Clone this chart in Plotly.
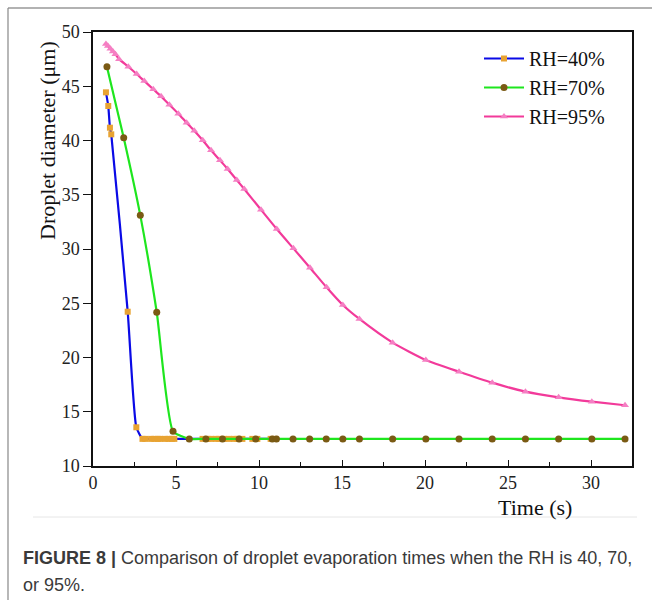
import plotly.graph_objects as go

# ---------------- data ----------------
t_40 = [0.78, 0.92, 1.02, 1.10, 2.09, 2.61, 2.98, 3.15, 3.5, 3.7, 3.9, 4.05,
        4.35, 4.55, 4.75, 4.9, 6.6, 6.9, 7.1, 7.4, 7.6, 7.9, 8.2, 8.5, 8.7, 9.0,
        9.6, 9.9, 10.7, 11.0]
d_40 = [44.44, 43.18, 41.18, 40.57, 24.22, 13.57, 12.5, 12.5, 12.5, 12.5, 12.5, 12.5,
        12.5, 12.5, 12.5, 12.5, 12.5, 12.5, 12.5, 12.5, 12.5, 12.5, 12.5, 12.5, 12.5, 12.5,
        12.5, 12.5, 12.5, 12.5]

t_70 = [0.84, 1.85, 2.85, 3.84, 4.82, 5.8, 6.8, 7.8, 8.8, 9.8, 10.8, 11.05, 12.05,
        13.05, 14.05, 15.05, 16.05, 18.05, 20.05, 22.05, 24.05, 26.05, 28.05, 30.05, 32.05]
d_70 = [46.8, 40.26, 33.1, 24.17, 13.2, 12.5, 12.5, 12.5, 12.5, 12.5, 12.5, 12.5, 12.5,
        12.5, 12.5, 12.5, 12.5, 12.5, 12.5, 12.5, 12.5, 12.5, 12.5, 12.5, 12.5]

t_95 = [0.78, 0.9, 1.05, 1.2, 1.35, 1.57, 2.13, 2.63, 3.09, 3.63, 4.10, 4.60, 5.14,
        5.64, 6.10, 6.61, 7.11, 7.65, 8.11, 8.66, 9.11, 10.12, 11.07, 12.07, 13.07,
        14.07, 15.05, 16.05, 18.05, 20.05, 22.05, 24.05, 26.05, 28.05, 30.05, 32.05]
d_95 = [48.9, 48.7, 48.45, 48.2, 47.95, 47.5, 46.8, 46.13, 45.48, 44.72, 44.07, 43.3,
        42.47, 41.64, 40.9, 40.02, 39.1, 38.18, 37.37, 36.36, 35.53, 33.62, 31.84, 30.06,
        28.28, 26.47, 24.84, 23.55, 21.37, 19.77, 18.69, 17.68, 16.85, 16.33, 15.93, 15.6]

series_names = ["RH=40%", "RH=70%", "RH=95%"]
x_ticks = [0, 5, 10, 15, 20, 25, 30]
y_ticks = [10, 15, 20, 25, 30, 35, 40, 45, 50]

caption_bold = "FIGURE 8 |"
caption_rest = " Comparison of droplet evaporation times when the RH is 40, 70,"
caption_line2 = "or 95%."

SERIF = "Liberation Serif"
SANS = "Liberation Sans"

fig = go.Figure()
fig.add_trace(go.Scatter(
    x=t_40, y=d_40, name=series_names[0], mode="lines+markers",
    line=dict(color="#0a0ae6", width=2.2, shape="spline", smoothing=0.5),
    marker=dict(symbol="square", size=6, color="#e8a332"),
))
fig.add_trace(go.Scatter(
    x=t_70, y=d_70, name=series_names[1], mode="lines+markers",
    line=dict(color="#1ee61e", width=2.2, shape="spline", smoothing=0.5),
    marker=dict(symbol="circle", size=7, color="#7a5a14"),
))
fig.add_trace(go.Scatter(
    x=t_95, y=d_95, name=series_names[2], mode="lines+markers",
    line=dict(color="#f23a9a", width=2.2, shape="spline", smoothing=0.6),
    marker=dict(symbol="triangle-up", size=7, color="#f57fc3"),
))

# frame lines and separator (paper coordinates)
pw, ph = 539.0, 434.0
L, T = 93.0, 32.0
def px(x):
    return (x - L) / pw
def py(y):
    return 1 - (y - T) / ph

shapes = [
    dict(type="line", xref="paper", yref="paper", x0=px(8), x1=px(660), y0=py(8), y1=py(8),
         line=dict(color="#666666", width=1.2)),
    dict(type="line", xref="paper", yref="paper", x0=px(8), x1=px(8), y0=py(8), y1=py(610),
         line=dict(color="#888888", width=1.2)),
    dict(type="line", xref="paper", yref="paper", x0=px(33), x1=px(637), y0=py(517), y1=py(517),
         line=dict(color="#e6e6e6", width=1)),
]

annotations = [
    dict(text="Droplet diameter (\u03bcm)", xref="paper", yref="paper", x=px(47), y=py(141),
         textangle=-90, showarrow=False, xanchor="center", yanchor="middle",
         font=dict(family=SERIF, size=22, color="#111")),
    dict(text="Time (s)", xref="paper", yref="paper", x=px(535), y=py(507),
         showarrow=False, xanchor="center", yanchor="middle",
         font=dict(family=SERIF, size=22, color="#111")),
    dict(text="<b>" + caption_bold + "</b>" + caption_rest, xref="paper", yref="paper",
         x=px(21), y=py(558), showarrow=False, xanchor="left", yanchor="middle",
         font=dict(family=SANS, size=18, color="#3a3a3a")),
    dict(text=caption_line2, xref="paper", yref="paper",
         x=px(21), y=py(585), showarrow=False, xanchor="left", yanchor="middle",
         font=dict(family=SANS, size=18, color="#3a3a3a")),
]

fig.update_layout(
    width=652, height=600,
    margin=dict(l=93, r=20, t=32, b=134),
    paper_bgcolor="white", plot_bgcolor="white",
    showlegend=True,
    legend=dict(x=px(479), y=py(39), xanchor="left", yanchor="top",
                font=dict(family=SERIF, size=20, color="#111"),
                bgcolor="rgba(0,0,0,0)", tracegroupgap=0, itemwidth=40),
    shapes=shapes, annotations=annotations,
    xaxis=dict(range=[0, 32.47], tickvals=x_ticks, ticks="inside", ticklen=6, tickwidth=1.3,
               tickcolor="#111", showline=True, linecolor="#111", linewidth=1.5, mirror=True,
               showgrid=False, zeroline=False,
               tickfont=dict(family=SERIF, size=18, color="#222"),
               minor=dict(tickvals=[2.5, 7.5, 12.5, 17.5, 22.5, 27.5], ticks="inside",
                          ticklen=4, tickwidth=1.3, tickcolor="#111")),
    yaxis=dict(range=[10, 50], tickvals=y_ticks, ticks="outside", ticklen=8, tickwidth=1.3,
               tickcolor="#111", showline=True, linecolor="#111", linewidth=1.5, mirror=True,
               showgrid=False, zeroline=False,
               tickfont=dict(family=SERIF, size=18, color="#222")),
)

fig.write_html("out.html")
